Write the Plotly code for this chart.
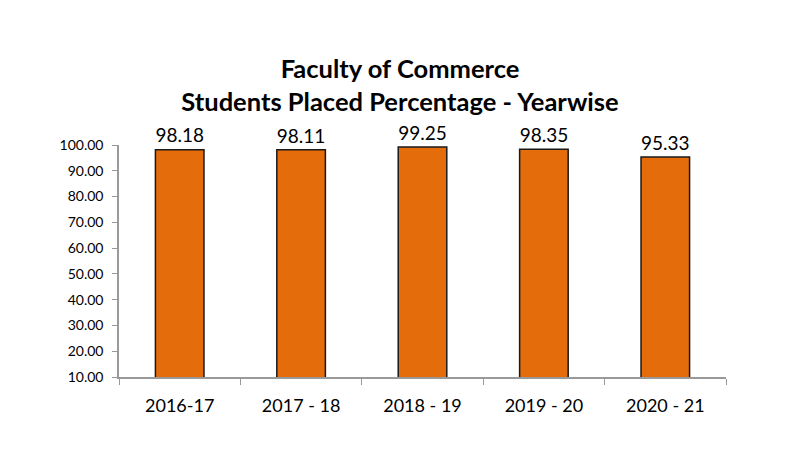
import plotly.graph_objects as go

years = ["2016-17", "2017 - 18", "2018 - 19", "2019 - 20", "2020 - 21"]
placed_pct = [98.18, 98.11, 99.25, 98.35, 95.33]
y_ticks = [10, 20, 30, 40, 50, 60, 70, 80, 90, 100]

FONT = "Lato, 'Open Sans', sans-serif"

fig = go.Figure(go.Bar(
    x=years, y=placed_pct,
    marker=dict(color="#E46C0A", line=dict(color="#1a1a1a", width=1.5)),
    width=0.4,
    text=[f"{v:.2f}" for v in placed_pct],
    textposition="outside",
    textfont=dict(size=22, color="#000000", family=FONT),
    cliponaxis=False,
))

fig.update_layout(
    width=800, height=450,
    margin=dict(l=119, r=74, t=145, b=73),
    paper_bgcolor="white", plot_bgcolor="white",
    showlegend=False,
    title=dict(
        text="<b>Faculty of Commerce<br>Students Placed Percentage - Yearwise</b>",
        x=0.5, xanchor="center", y=0.826, yanchor="middle",
        font=dict(size=25.5, color="#000000", family=FONT),
    ),
    font=dict(family=FONT, color="#000000"),
)

fig.update_xaxes(
    showline=True, linecolor="#999999", linewidth=1.5,
    ticks="outside", tickson="boundaries", ticklen=6, tickcolor="#999999",
    tickfont=dict(size=18, family=FONT, color="#000000"),
    ticklabelstandoff=12,
)
fig.update_yaxes(
    range=[10, 100], tickvals=y_ticks,
    ticktext=[f"{v:.2f}" for v in y_ticks],
    showline=True, linecolor="#999999", linewidth=1.5,
    ticks="outside", ticklen=5, tickcolor="#999999",
    showgrid=False, zeroline=False,
    tickfont=dict(size=14, family=FONT, color="#000000"),
    ticklabelstandoff=6,
)

fig.write_html("out.html")
